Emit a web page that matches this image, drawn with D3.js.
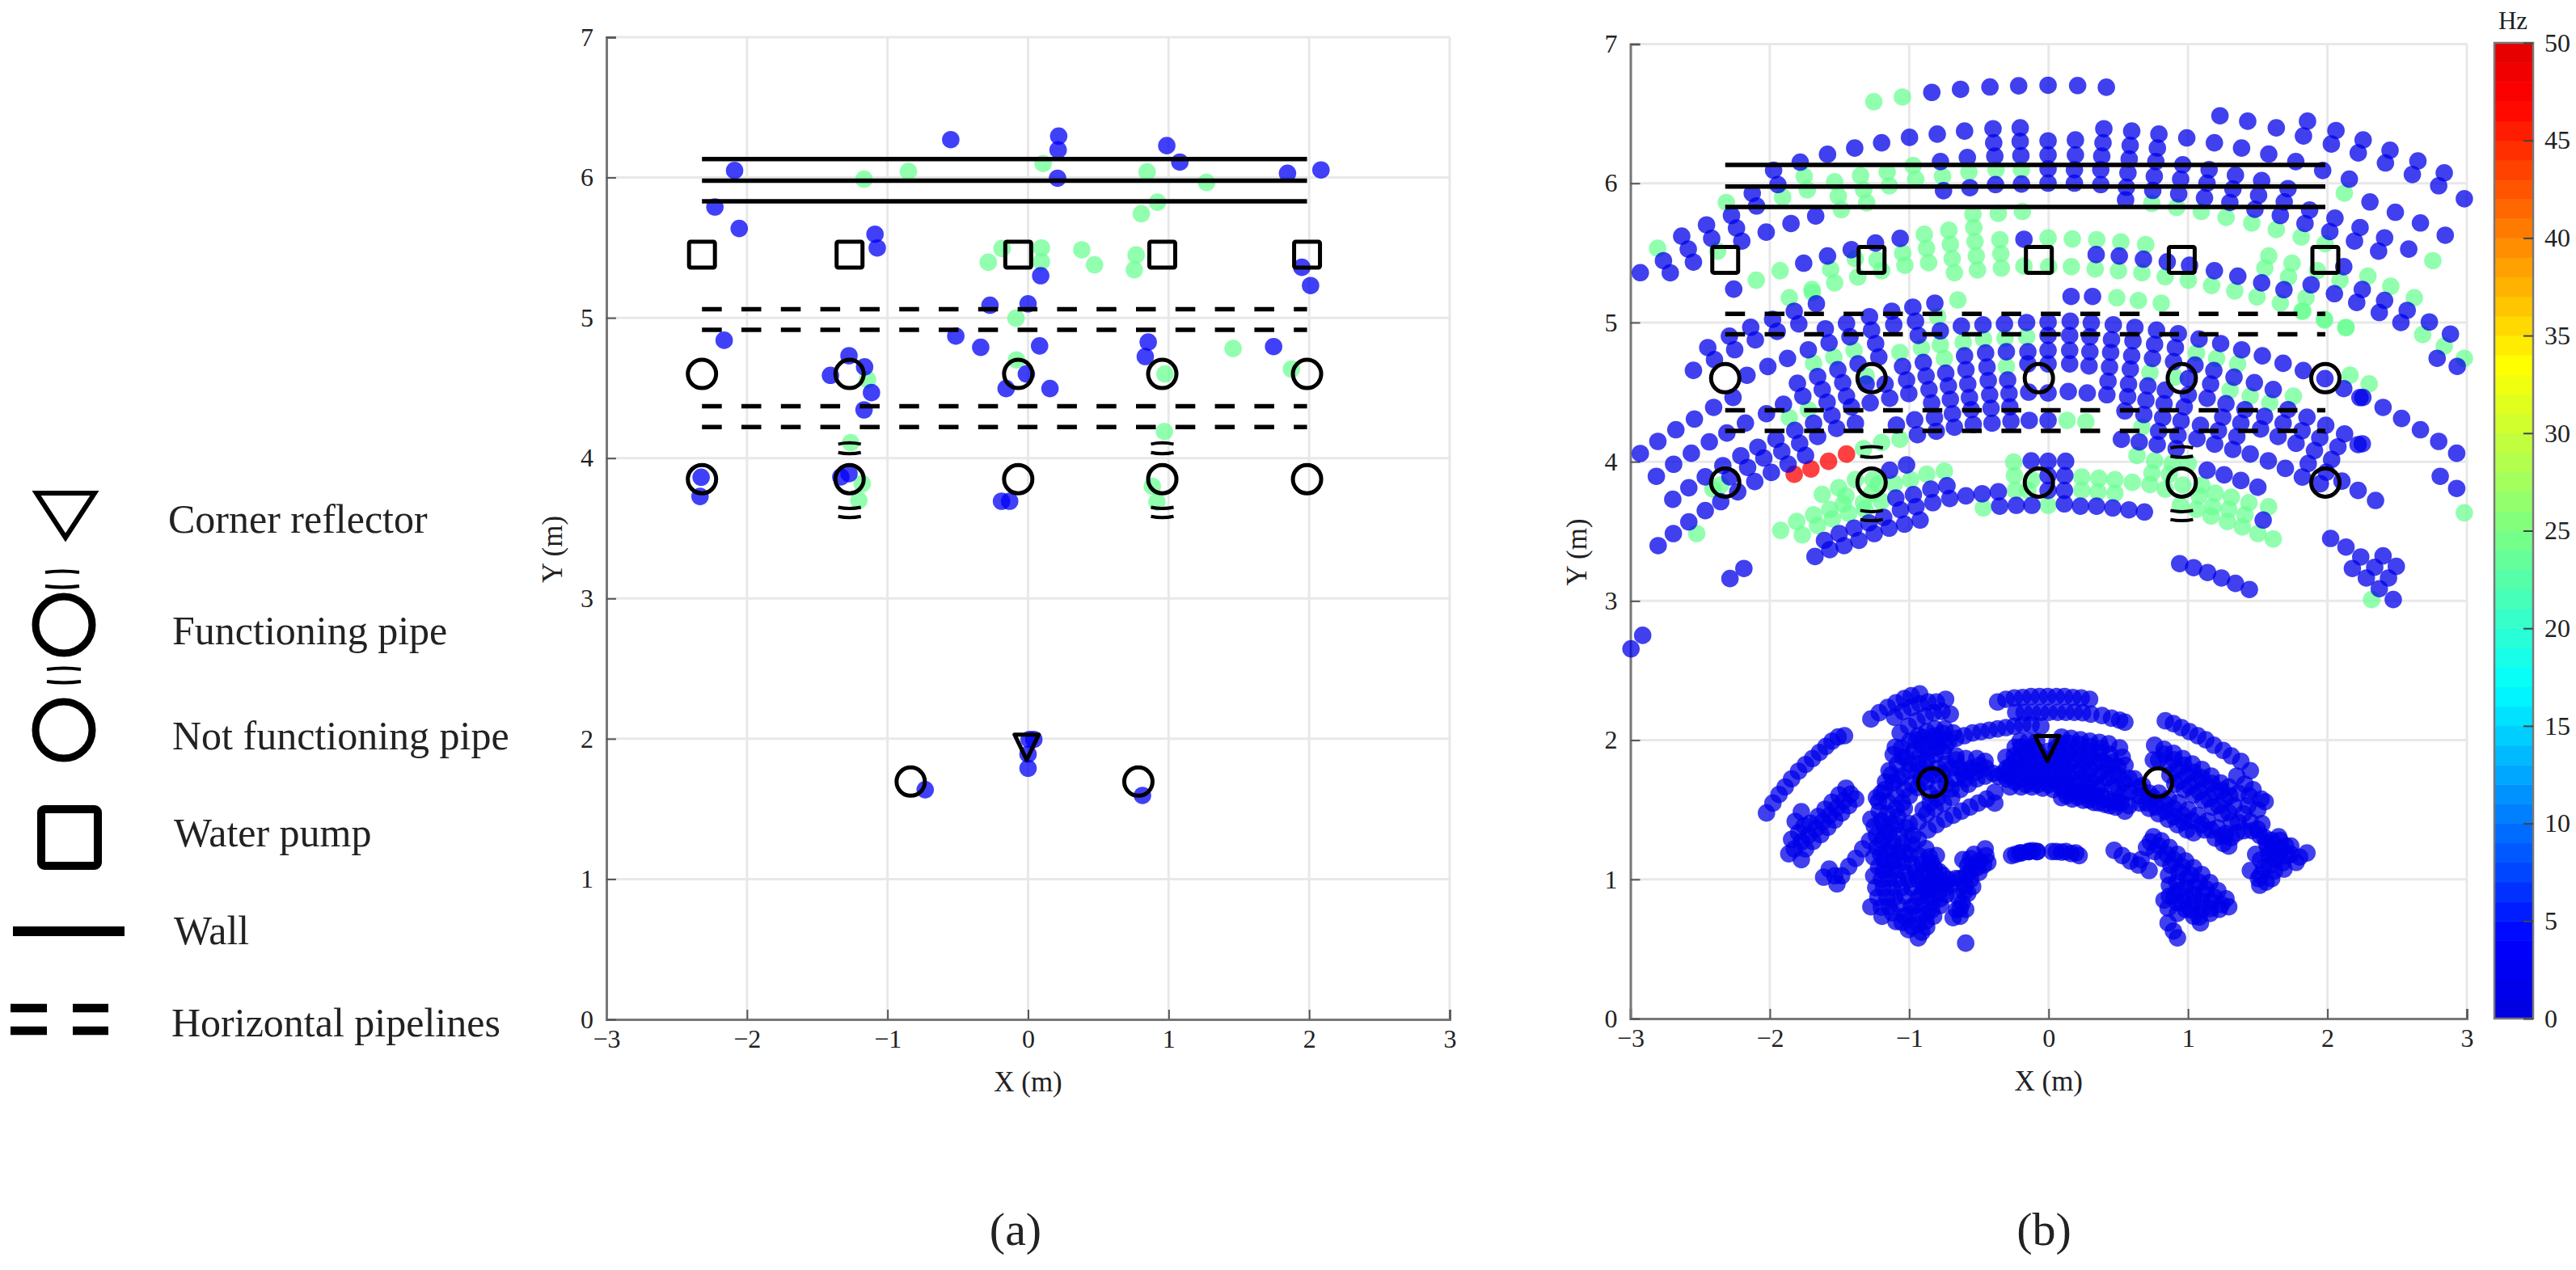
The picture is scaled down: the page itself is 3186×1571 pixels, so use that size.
<!DOCTYPE html>
<html>
<head>
<meta charset="utf-8">
<script src="https://cdn.jsdelivr.net/npm/d3@7"></script>
<style>
  body { margin: 0; background: #fff; }
  text { font-family: "Liberation Serif", serif; fill: #222; }
</style>
</head>
<body>
<svg id="chart" width="3186" height="1571"></svg>
<script>
// site layout, metres
var pumpX = [-2.32, -1.27, -0.07, 0.955, 1.985];
var pumpY = [5.45];
var pipeRows = [4.6, 3.85];
var nearPipes = [[-0.835, 1.695], [0.785, 1.695]];
var workingPipeX = [-1.27, 0.955];
var pipeArcY = [4.1, 4.04, 3.65, 3.585];
var wallY = [6.132, 5.977, 5.83];
var pipelineY = [5.062, 4.915, 4.37, 4.222];
var siteX = [-2.32, 1.985];
var reflector = [-0.01, 2.03, 1.85];

// frequency of each point group, Hz
var blueHz = 1.5, blueHzA = 3, greenHz = 24, redHz = 47;

// panel (a) detections
var aBlue = [[-0.55,6.27],[0.218,6.295],[0.214,6.197],[0.21,5.995],[0.987,6.227],[1.08,6.11],[1.846,6.03],[2.084,6.054],[-2.088,6.05],[-2.228,5.79],[-2.055,5.637],[-1.089,5.596],[-1.073,5.498],[0.09,5.3],[1.948,5.36],[2.01,5.23],[-0.271,5.09],[0,5.1],[-0.514,4.87],[-0.337,4.79],[0.082,4.8],[0.855,4.827],[0.834,4.724],[1.747,4.795],[-2.162,4.84],[-1.274,4.73],[-1.163,4.65],[-1.406,4.59],[-1.114,4.467],[-1.167,4.344],[-0.012,4.6],[-0.156,4.496],[0.156,4.496],[-2.326,3.864],[-2.334,3.727],[-1.332,3.866],[-1.274,3.889],[-0.189,3.693],[-0.131,3.693],[-0.732,1.637],[0.814,1.596],[0,1.79],[0,1.89],[0.008,1.995],[0.041,1.995]];
var aGreen = [[-1.167,5.988],[-0.851,6.043],[0.107,6.1],[0.847,6.04],[1.27,5.965],[0.921,5.824],[0.806,5.742],[-0.185,5.494],[-0.283,5.396],[0.095,5.498],[0.095,5.4],[0.382,5.485],[0.473,5.378],[0.769,5.448],[0.756,5.343],[-0.086,4.997],[-0.082,4.7],[1.459,4.781],[1.874,4.635],[0.974,4.6],[-1.142,4.56],[0.97,4.19],[-1.262,4.11],[-1.18,3.818],[-1.204,3.7],[0.884,3.8],[0.917,3.688]];

// panel (b) detections
var bRed = [[-1.825,3.91],[-1.705,3.948],[-1.579,4.003],[-1.45,4.055]];
var bGreen = [[-1.254,6.586],[-1.049,6.62],[-2.805,5.533],[-2.312,5.862],[-2.374,5.513],[-1.908,5.9],[-1.753,6.05],[-1.731,5.953],[-1.535,6.011],[-1.509,5.908],[-1.487,5.811],[-1.349,6.055],[-1.327,5.953],[-1.305,5.86],[-1.158,6.082],[-1.143,5.982],[-0.972,6.127],[-0.954,6.03],[-0.761,6.05],[-0.572,6.082],[-0.543,5.778],[-0.377,6.098],[-0.195,6.098],[-0.361,5.784],[-0.188,5.798],[-0.892,5.633],[-0.876,5.533],[-0.861,5.43],[-0.716,5.662],[-0.705,5.562],[-0.692,5.459],[-0.676,5.358],[-0.537,5.682],[-0.528,5.581],[-0.519,5.478],[-0.51,5.378],[-0.35,5.595],[-0.343,5.494],[-0.339,5.391],[-0.004,5.608],[-0.177,5.405],[0,5.401],[-1.047,5.498],[-1.031,5.411],[-1.231,5.449],[-1.198,5.372],[-1.387,5.459],[-1.369,5.327],[-1.564,5.382],[-1.535,5.285],[-1.926,5.372],[-2.097,5.304],[-1.698,5.237],[-1.86,5.178],[-1.695,5.216],[-0.651,5.162],[-0.796,5.042],[-0.613,4.858],[-0.467,4.881],[-0.313,4.887],[-0.158,4.897],[-0.777,4.839],[-0.748,4.742],[-0.912,4.816],[-1.067,4.785],[-1.396,4.8],[-1.541,4.752],[-1.686,4.707],[-0.303,4.684],[-1.309,4.616],[-1.86,4.316],[-1.724,4.374],[0.132,4.297],[0.267,4.287],
[-0.004,3.687],[-0.468,3.668],[-0.251,3.997],[-0.245,3.9],[-0.239,3.794],[-0.149,3.794],[-0.12,3.871],[-0.748,3.933],[-0.874,3.91],[-0.99,3.871],[-1.106,3.842],[-1.222,3.842],[-1.26,3.871],[-1.386,3.871],[-1.27,3.774],[-1.2,3.716],[-1.328,3.706],[-1.454,3.755],[-1.506,3.813],[-1.624,3.765],[-1.57,3.658],[-1.473,3.697],[-1.686,3.619],[-1.807,3.571],[-1.922,3.507],[-1.767,3.474],[-1.657,3.542],[-1.55,3.59],[-1.434,3.629],[-1.318,3.658],[-1.328,4.094],[-1.198,4.138],[-1.067,4.161],
[-2.408,3.804],[-2.352,3.833],[-2.525,3.484],
[0.489,5.178],[0.644,5.158],[0.808,5.139],[1.978,5.023],[2.133,4.965],[1.824,5.081],[1.06,4.781],[1.205,4.742],[1.356,4.703],[0.727,4.641],[0.905,4.607],[1.302,4.514],[1.446,4.471],[1.586,4.423],[1.756,4.471],[2.162,4.622],[0.669,4.248],[0.634,4.045],[0.76,4.007],[0.886,3.987],[1.002,3.987],[0.238,3.89],[0.36,3.881],[0.476,3.871],[0.6,3.852],[0.238,3.794],[0.354,3.784],[0.476,3.774],[0.741,3.919],[0.727,3.836],[0.837,3.803],[0.866,3.91],[0.963,3.832],[1.079,3.755],[1.195,3.774],[1.311,3.745],[1.437,3.706],[1.578,3.677],[0.944,3.687],[1.06,3.658],[1.176,3.677],[1.292,3.658],[1.408,3.619],[1.166,3.61],[1.282,3.571],[1.389,3.532],[1.501,3.484],[1.611,3.445],[1.098,3.832],
[2.317,3.01],[2.982,3.633],[2.299,4.559],[2.982,4.743],
[0.74,5.856],[0.918,5.827],[1.095,5.798],[1.273,5.755],[1.457,5.715],[1.633,5.668],[1.812,5.614],[1.983,5.566],[2.121,5.929],[0.17,5.6],[0.345,5.595],[0.518,5.579],[0.696,5.56],[0.163,5.401],[0.334,5.385],[0.501,5.372],[0.669,5.357],[0.836,5.329],[1.002,5.304],[1.169,5.266],[1.335,5.227],[1.495,5.184],[1.662,5.14],[1.817,5.082],[1.979,5.018],[2.132,4.962],[1.579,5.478],[1.551,5.391],[1.746,5.426],[1.721,5.327],[1.928,5.372],[2.09,5.304],[2.29,5.333],[2.454,5.26],[2.623,5.178],[2.683,4.913],[2.838,4.83],[2.756,5.444],[1.846,5.178]];
var bBlue = [[-0.838,6.653],[-0.632,6.675],[-0.421,6.692],[-0.215,6.7],[-0.004,6.704],[0.208,6.702],[0.414,6.69],
[-2.929,5.358],[-2.763,5.444],[-2.714,5.357],[-2.632,5.62],[-2.585,5.527],[-2.548,5.434],[-2.454,5.701],[-2.417,5.604],[-2.275,5.769],[-2.239,5.678],[-2.201,5.585],[-2.126,5.928],[-2.095,5.837],[-1.973,6.094],[-1.942,5.991],[-1.782,6.152],[-1.586,6.208],[-1.391,6.253],[-1.198,6.291],[-0.998,6.33],[-0.799,6.353],[-0.603,6.375],[-0.399,6.392],[-0.394,6.291],[-0.386,6.195],[-0.381,5.991],[-0.204,6.398],[-0.204,6.301],[-0.199,6.199],[-0.195,5.995],[-0.776,6.156],[-0.583,6.185],[-0.754,5.947],[-0.565,5.968],[-0.004,6.305],[-0.004,6.204],[-0.004,6.104],[-0.004,6.001],[-2.026,5.649],[-1.848,5.711],[-1.671,5.765],[-2.259,5.24],[-1.757,5.426],[-1.586,5.478],[-1.416,5.523],[-1.242,5.571],[-1.065,5.604],[-0.177,5.598],
[-2.137,4.966],[-2.104,4.875],[-2.29,4.902],[-2.252,4.805],[-2.445,4.82],[-2.397,4.733],
[-1.666,5.135],[-1.825,5.081],[-1.792,4.99],[-1.98,5.023],[-1.947,4.936],[-1.602,4.955],[-1.575,4.854],[-1.724,4.804],[-1.873,4.742],[-2.014,4.684],[-1.45,4.994],[-1.285,5.042],[-1.27,4.945],[-1.241,4.849],[-1.218,4.752],[-1.425,4.897],[-1.367,4.703],[-1.512,4.661],[-1.477,4.568],[-1.45,4.471],[-1.415,4.394],[-1.386,4.277],[-1.657,4.612],[-1.624,4.519],[-1.589,4.428],[-1.554,4.332],[-1.521,4.239],[-1.802,4.564],[-1.763,4.471],[-1.902,4.413],[-1.686,4.277],[-1.657,4.181],[-2.024,4.345],[-1.821,4.225],[-1.786,4.132],[-1.744,4.045],[-1.956,4.161],[-1.914,4.074],[-1.869,3.983],[-1.989,3.923],[-2.043,4.026],[-1.125,5.081],[-1.111,4.984],[-0.974,5.11],[-0.955,5.009],[-0.935,4.907],[-0.816,5.139],[-0.777,4.94],[-1.048,4.684],[-1.019,4.587],[-1.003,4.49],[-0.899,4.713],[-0.879,4.616],[-0.858,4.519],[-0.839,4.423],[-0.819,4.316],[-0.806,4.219],[-0.738,4.636],[-0.719,4.545],[-0.705,4.448],[-0.69,4.345],[-0.676,4.248],[-0.603,4.761],[-0.593,4.661],[-0.58,4.558],[-0.568,4.461],[-0.555,4.374],[-0.541,4.268],[-0.626,4.974],[-0.471,4.984],[-0.317,4.99],[-0.158,5],[-0.004,5.003],[0.155,5.009],[-0.452,4.781],[-0.442,4.68],[-0.433,4.583],[-0.423,4.481],[-0.413,4.384],[-0.406,4.277],[-0.303,4.79],[-0.294,4.587],[-0.284,4.49],[-0.278,4.394],[-0.27,4.291],[-0.149,4.79],[-0.149,4.703],[-0.143,4.5],[-0.139,4.297],[-0.004,4.907],[-0.004,4.8],[-0.004,4.703],[-0.004,4.494],[-0.004,4.297],[0.151,4.907],[0.151,4.8],[0.151,4.703],[0.141,4.504],[-1.28,4.423],[-1.14,4.456],[-1.309,4.558],[-1.173,4.558],[-1.092,4.264],[-0.961,4.301],[-0.941,4.194],
[-1.019,3.977],[-1.14,3.939],[-1.096,3.739],[-0.97,3.764],[-0.845,3.803],[-0.729,3.828],[-0.709,3.736],[-0.831,3.706],[-0.951,3.677],[-1.063,3.654],[-0.922,3.581],[-1.034,3.552],[-1.144,3.523],[-1.251,3.484],[-1.361,3.435],[-1.467,3.397],[-1.57,3.368],[-1.676,3.319],[-1.608,3.435],[-1.502,3.484],[-1.396,3.523],[-1.289,3.561],[-1.183,3.6],[-0.593,3.755],[-0.477,3.77],[-0.361,3.784],[-0.351,3.681],[-0.232,3.687],[-0.12,3.687],[0.113,3.697],[0.228,3.681],[0.113,3.794],[0.116,3.9],[0.122,4.003],[-0.004,4.003],[-0.125,4.006],[-0.004,3.9],[-0.004,3.794],
[-2.548,4.656],[-2.164,4.621],[-2.264,4.462],[-2.403,4.39],[-2.541,4.307],[-2.674,4.23],[-2.803,4.146],[-2.929,4.059],[-2.175,4.278],[-2.308,4.206],[-2.434,4.143],[-2.563,4.061],[-2.69,3.982],[-2.814,3.895],[-2.086,4.104],[-2.208,4.042],[-2.337,3.972],[-2.463,3.891],[-2.581,3.813],[-2.696,3.73],[-2.159,3.959],[-2.286,3.891],[-2.108,3.858],[-2.23,3.784],[-2.352,3.713],[-2.463,3.649],[-2.581,3.568],[-2.692,3.484],[-2.801,3.397],[-2.186,3.233],[-2.286,3.161],[-2.912,2.753],[-2.996,2.656],
[0.161,5.187],[0.315,5.187],[0.306,4.998],[0.464,4.984],[0.619,4.965],[0.774,4.945],[0.93,4.92],[1.079,4.881],[1.234,4.849],[1.385,4.804],[1.533,4.761],[1.682,4.707],[1.827,4.655],[1.982,4.597],[2.117,4.525],[0.296,4.897],[0.296,4.79],[0.29,4.688],[0.277,4.494],[0.451,4.878],[0.445,4.785],[0.437,4.68],[0.426,4.578],[0.418,4.481],[0.605,4.868],[0.596,4.761],[0.586,4.665],[0.573,4.558],[0.567,4.467],[0.547,4.365],[0.76,4.843],[0.745,4.742],[0.712,4.545],[0.698,4.442],[0.683,4.339],[0.909,4.82],[0.896,4.719],[0.837,4.514],[0.828,4.417],[0.818,4.316],[0.789,4.219],[1.05,4.694],[1.002,4.597],[1.002,4.481],[0.973,4.394],[0.95,4.293],[0.928,4.19],[0.915,4.094],[1.185,4.655],[1.162,4.558],[1.137,4.456],[1.089,4.262],[1.064,4.165],[1.33,4.607],[1.272,4.417],[1.249,4.32],[1.218,4.223],[1.191,4.126],[1.476,4.568],[1.408,4.374],[1.379,4.277],[1.35,4.181],[1.321,4.088],[1.611,4.519],[1.549,4.326],[1.52,4.235],[1.717,4.374],[1.682,4.277],[1.646,4.181],[1.853,4.32],[1.818,4.223],[1.775,4.132],[1.988,4.262],[1.945,4.171],[1.907,4.08],[1.862,3.987],[1.82,3.89],[2.123,4.2],[2.075,4.107],[2.03,4.016],[1.992,3.925],[1.949,3.842],[2.22,4.123],[2.233,4.461],[0.522,4.161],[0.65,4.142],[0.779,4.123],[1.446,4.055],[1.576,4.006],[1.698,3.952],[1.137,3.939],[1.259,3.906],[1.379,3.865],[1.501,3.817],[1.539,3.581],[2.104,3.861],[2.22,3.794],[0.344,3.681],[0.46,3.668],[0.576,3.654],[0.687,3.639],[2.023,3.449],[2.133,3.387],
[0.192,6.311],[0.192,6.204],[0.185,6.098],[0.185,6.001],[0.396,6.392],[0.39,6.291],[0.381,6.195],[0.374,6.098],[0.374,5.991],[0.596,6.375],[0.585,6.272],[0.578,6.175],[0.569,6.075],[0.558,5.972],[0.552,5.881],[0.791,6.353],[0.78,6.253],[0.769,6.156],[0.758,6.05],[0.747,5.949],[0.991,6.326],[0.962,6.133],[0.947,6.03],[0.933,5.924],[1.189,6.291],[1.151,6.098],[1.136,6.001],[1.118,5.895],[1.229,6.485],[1.428,6.446],[1.633,6.398],[1.857,6.446],[1.828,6.34],[2.061,6.379],[2.028,6.282],[2.256,6.311],[2.221,6.218],[2.449,6.237],[2.416,6.146],[2.649,6.16],[2.609,6.063],[2.838,6.075],[2.798,5.982],[2.982,5.889],[1.384,6.253],[1.579,6.21],[1.773,6.156],[1.966,6.092],[2.157,6.03],[1.34,6.059],[1.322,5.959],[1.3,5.862],[1.528,6.02],[1.506,5.914],[1.48,5.813],[1.717,5.962],[1.69,5.866],[1.662,5.769],[1.872,5.808],[1.839,5.711],[2.054,5.75],[2.017,5.653],[2.234,5.682],[2.194,5.585],[2.41,5.608],[2.367,5.513],[2.305,5.866],[2.487,5.792],[2.667,5.715],[2.845,5.627],[2.583,5.527],[0.341,5.488],[0.507,5.478],[0.68,5.455],[0.851,5.436],[1.011,5.411],[1.189,5.372],[1.357,5.333],[1.528,5.285],[1.688,5.236],[1.883,5.271],[2.05,5.207],[2.117,5.401],[2.25,5.237],[2.21,5.144],[2.41,5.159],[2.372,5.072],[2.572,5.087],[2.527,5],[2.731,5.004],[2.882,4.917],[2.787,4.743],[2.931,4.685],
[2.254,4.462],[2.399,4.39],[2.532,4.311],[2.667,4.23],[2.798,4.146],[2.927,4.061],[2.809,3.895],[2.927,3.808],[2.345,3.722],[2.25,4.129],[0.94,3.268],[1.04,3.239],[1.14,3.204],[1.24,3.165],[1.34,3.126],[1.44,3.082],[2.239,3.316],[2.179,3.233],[2.279,3.165],[2.339,3.242],[2.399,3.324],[2.438,3.165],[2.494,3.248],[2.372,3.088],[2.472,3.01]];
// near-field cluster in panel (b)
var bNear = [[-2.024,1.477],[-1.978,1.548],[-1.934,1.61],[-1.89,1.664],[-1.844,1.722],[-1.794,1.777],[-1.744,1.825],[-1.694,1.868],[-1.644,1.912],[-1.598,1.955],[-1.554,1.993],[-1.51,2.023],[-1.464,2.032],
[-1.454,1.655],[-1.504,1.606],[-1.554,1.554],[-1.604,1.504],[-1.654,1.451],[-1.71,1.403],[-1.384,1.577],[-1.434,1.529],[-1.484,1.477],[-1.534,1.426],[-1.584,1.374],[-1.634,1.322],[-1.69,1.273],[-1.744,1.219],[-1.774,1.142],[-1.42,1.612],[-1.47,1.564],[-1.52,1.513],[-1.57,1.461],[-1.62,1.413],[-1.67,1.364],[-1.724,1.316],[-1.774,1.268],[-1.824,1.219],[-1.864,1.184],[-1.774,1.486],[-1.818,1.417],[-1.754,1.384],[-1.794,1.335],[-1.844,1.287],
[-1.574,1.074],[-1.614,1.016],[-1.518,0.968],[-1.484,1.026],[-1.434,1.093],[-1.384,1.151],[-1.334,1.219],[-1.285,1.277],[-1.534,1.026],
[-1.275,2.152],[-1.215,2.197],[-1.155,2.235],[-1.095,2.268],[-1.035,2.299],[-0.985,2.319],[-0.925,2.332],[-1.105,2.164],[-1.045,2.206],[-0.985,2.235],[-0.925,2.261],[-0.865,2.274],[-0.805,2.274],[-0.739,2.294],[-1.065,2.052],[-1.005,2.1],[-0.945,2.139],[-0.885,2.172],[-0.825,2.197],[-0.765,2.206],[-0.705,2.187],[-1.115,1.897],[-1.055,1.945],[-0.995,1.993],[-0.935,2.032],[-0.875,2.061],[-0.815,2.081],[-0.745,2.081],[-0.685,2.052],[-1.145,1.781],[-1.085,1.829],[-1.025,1.877],[-0.965,1.926],[-0.905,1.964],[-0.845,1.993],[-0.785,2.013],[-0.715,1.993],[-0.665,1.887],[-1.235,1.587],[-1.175,1.645],[-1.115,1.693],[-1.055,1.742],[-0.995,1.781],[-0.935,1.829],[-0.875,1.858],[-0.815,1.897],[-0.755,1.916],[-1.275,1.432],[-1.215,1.49],[-1.155,1.558],[-1.095,1.606],[-1.035,1.645],[-0.975,1.684],[-0.915,1.722],[-0.855,1.761],[-0.795,1.8],[-0.735,1.829],[-0.665,1.858],[-0.595,1.868],[-0.515,1.868],[-0.456,1.848],[-0.935,1.413],[-0.875,1.471],[-0.815,1.51],[-0.755,1.548],[-0.695,1.587],[-0.635,1.645],[-0.575,1.684],[-0.515,1.722],[-0.456,1.742],[-0.396,1.761],[-0.865,1.355],[-0.805,1.393],[-0.745,1.432],[-0.685,1.461],[-0.625,1.49],[-0.565,1.519],[-0.505,1.548],[-0.445,1.577],[-0.386,1.548],[-0.386,1.626],[-0.855,1.616],[-0.795,1.655],[-0.735,1.684],[-0.675,1.722],[-0.615,1.761],[-0.555,1.8],[-0.496,1.819],
[-0.665,2.013],[-0.605,2.032],[-0.545,2.052],[-0.485,2.061],[-0.426,2.071],[-0.366,2.081],[-0.306,2.09],[-0.246,2.1],[-0.186,2.11],[-0.126,2.11],[-0.056,2.1],
[-0.366,2.274],[-0.306,2.294],[-0.246,2.303],[-0.186,2.307],[-0.126,2.313],[-0.066,2.313],[-0.006,2.313],[0.054,2.313],[0.114,2.313],[0.174,2.307],[0.234,2.303],[0.294,2.294],[-0.236,2.2],[-0.176,2.2],[-0.116,2.2],[-0.056,2.2],[0.004,2.2],[0.064,2.2],[0.124,2.2],[0.184,2.2],[0.243,2.197],[0.303,2.187],[0.383,2.177],[0.451,2.158],[0.509,2.144],[0.547,2.129],[-0.206,1.993],[-0.146,1.993],[-0.086,1.993],
[0.093,2.022],[0.161,2.013],[0.228,2.003],[0.296,1.993],[0.364,1.984],[0.431,1.974],[0.509,1.945],[-0.197,1.951],[-0.12,1.951],[0.054,1.945],[0.132,1.939],[0.209,1.93],[0.286,1.92],[0.364,1.91],[0.441,1.897],[0.528,1.877],[-0.197,1.877],[-0.12,1.877],[-0.042,1.873],[0.035,1.868],[0.112,1.862],[0.19,1.854],[0.267,1.844],[0.344,1.835],[0.422,1.823],[0.499,1.81],[0.548,1.82],[-0.197,1.8],[-0.12,1.8],[-0.042,1.796],[0.035,1.79],[0.112,1.781],[0.19,1.771],[0.267,1.757],[0.344,1.742],[0.422,1.728],[0.499,1.745],[0.576,1.726],[-0.197,1.722],[-0.12,1.722],[-0.042,1.719],[0.035,1.713],[0.112,1.703],[0.19,1.693],[0.267,1.68],[0.344,1.664],[0.499,1.664],[0.576,1.626],[0.654,1.6],[0.731,1.58],[0.093,1.587],[0.17,1.577],[0.248,1.568],[0.325,1.552],[0.402,1.539],[0.48,1.519],[0.547,1.49],[-0.197,1.664],[-0.12,1.664],[-0.042,1.655],[0.035,1.645],[0.112,1.635],[0.19,1.622],[0.267,1.606],[0.344,1.597],[0.422,1.577],[0.499,1.558],[0.576,1.529],[-0.306,1.877],[-0.246,1.887],[-0.276,1.664],[-0.276,1.742],[-0.276,1.81],
[0.837,2.139],[0.895,2.119],[0.953,2.09],[1.011,2.061],[1.07,2.032],[1.127,2.003],[1.185,1.964],[1.253,1.926],[1.311,1.887],[1.379,1.848],[1.447,1.781],[1.466,1.645],[1.524,1.577],[1.553,1.558],[0.76,1.964],[0.828,1.935],[0.896,1.906],[0.963,1.868],[1.031,1.829],[1.099,1.79],[1.166,1.742],[1.234,1.693],[1.292,1.664],[1.35,1.742],[1.408,1.684],[0.789,1.858],[0.857,1.819],[0.924,1.79],[0.992,1.752],[1.06,1.713],[1.127,1.674],[1.195,1.626],[1.263,1.577],[1.33,1.529],[1.398,1.471],[1.447,1.413],[1.514,1.316],[1.563,1.258],[0.905,1.684],[0.973,1.645],[1.04,1.606],[1.108,1.568],[1.176,1.519],[1.244,1.471],[1.311,1.413],[1.35,1.335],[1.292,1.239],[0.654,1.548],[0.721,1.51],[0.789,1.471],[0.857,1.432],[0.924,1.393],[0.992,1.355],[1.04,1.335],[1.118,1.355],[1.195,1.297],[1.253,1.258],[0.615,1.723],[0.673,1.674],[0.751,1.587],[0.828,1.548],[0.896,1.51],[0.963,1.461],[1.031,1.422],[1.099,1.393],[1.166,1.355],[0.751,1.858],
[1.853,1.19],[1.775,1.122],[1.708,1.171],[1.65,1.306],[1.688,1.074],[1.63,1.142],[1.572,1.229],[1.6,1.006],[1.543,1.084],[1.485,1.18],[1.514,0.958],[1.447,1.064],[1.505,1.006],[1.737,1.239],[1.669,1.219],[1.6,1.2],
[-0.197,1.19],[-0.139,1.2],[-0.081,1.2],[0.025,1.2],[0.093,1.196],[0.161,1.186],[0.219,1.171],[-0.266,1.171],[-0.206,1.19],[-0.146,1.2],[-0.086,1.2],[-0.236,1.18],[-0.116,1.206],[0.054,1.2],[0.124,1.2],[0.194,1.19],
[0.47,1.209],[0.528,1.171],[0.586,1.132],[0.644,1.103],[0.721,1.064],[0.663,1.142],[0.751,1.306],[0.808,1.277],[0.866,1.229],[0.924,1.18],[0.983,1.132],[1.04,1.084],[1.099,1.035],[1.157,0.977],[1.214,0.919],[1.272,0.861],[1.292,0.803],[0.702,1.229],[0.76,1.2],[0.818,1.151],[0.876,1.103],[0.934,1.055],[0.992,1.006],[1.05,0.948],[1.108,0.9],[1.166,0.842],[1.224,0.784],[0.866,0.958],[0.924,0.919],[0.983,0.88],[1.04,0.832],[1.099,0.784],[1.157,0.755],[1.089,0.687],[1.04,0.735],[0.983,0.784],[0.924,0.832],[0.866,0.88],[0.828,0.851],[0.857,0.793],[0.924,0.755],[0.857,0.687],[0.895,0.629],[0.924,0.58],
[-1.275,0.803],[-1.225,0.871],[-1.185,0.939],[-1.145,1.006],[-1.095,1.064],[-1.045,1.122],[-0.995,1.18],[-0.935,1.287],[-1.195,0.735],[-1.145,0.803],[-1.105,0.871],[-1.055,0.939],[-1.005,0.997],[-0.955,1.055],[-0.905,1.113],[-0.855,1.161],[-0.805,1.171],[-1.095,0.697],[-1.035,0.735],[-0.985,0.803],[-0.935,0.871],[-0.895,0.939],[-0.835,0.997],[-0.785,1.055],[-1.005,0.639],[-0.935,0.58],[-0.875,0.658],[-0.825,0.735],[-0.775,0.813],[-0.735,0.89],[-0.705,0.958],[-0.935,0.677],[-0.875,0.755],[-0.835,0.832],[-0.795,0.9],[-1.255,1.026],[-1.255,1.161],[-1.195,1.277],[-1.145,1.335],[-1.095,1.393],[-1.205,1.18],[-1.135,1.219],[-1.235,1.316],[-1.175,1.374],[-1.155,1.471],[-1.095,1.51],[-1.075,1.161],[-1.115,1.122],[-1.185,1.064],[-0.975,1.316],[-1.045,1.258],[-1.035,1.51],[-0.635,0.793],[-0.685,0.725],[-0.595,0.784],[-0.635,0.735],[-0.545,0.948],[-0.605,0.909],[-0.655,0.88],[-0.635,1.006],[-0.555,1.064],[-0.466,1.103],[-0.436,1.122],[-0.615,1.142],[-0.535,1.18],[-0.455,1.219],[-0.665,1.006],[-0.595,1.026],[-0.515,1.084],[-0.855,1.103],[-0.915,1.026],[-0.815,1.026],[-0.755,0.968],[-0.855,0.929],[-0.595,0.542],
// densest parts, read between the rows above
[-1.2,0.8],[-1.16,0.87],[-1.12,0.94],[-1.08,1.0],[-1.03,1.05],[-0.98,1.11],[-0.93,1.17],[-0.88,1.22],[-1.12,0.76],[-1.08,0.82],[-1.03,0.88],[-0.98,0.94],[-0.94,1.0],[-0.89,1.06],[-0.84,1.12],[-1.05,0.69],[-1.0,0.75],[-0.96,0.81],[-0.91,0.9],[-0.87,0.97],[-0.82,1.08],[-0.98,0.66],[-0.94,0.74],[-0.9,0.82],[-0.86,0.88],[-0.8,0.96],[-0.76,1.03],[-0.91,0.62],[-0.88,0.7],[-0.84,0.78],[-0.78,0.86],[-0.74,0.94],[-0.72,1.0],[-1.24,0.94],[-1.2,1.0],[-1.16,1.07],[-1.12,1.13],[-1.08,1.2],[-1.03,1.2],[-0.98,1.25],[-1.22,1.09],[-1.18,1.14],[-1.16,1.2],[-1.12,1.27],[-1.07,1.32],[-1.02,1.37],[-1.23,1.23],[-1.18,1.3],[-1.13,1.4],[-1.2,1.42],[-1.25,1.38],[-1.08,1.45],[-0.66,0.78],[-0.62,0.83],[-0.58,0.9],[-0.6,0.96],[-0.56,1.0],[-0.5,1.05],[-0.5,1.13],[-0.58,1.1],[-0.45,1.17],[-0.56,1.15],
[-0.3,1.72],[-0.3,1.8],[-0.24,1.7],[-0.24,1.78],[-0.24,1.85],[-0.24,1.95],[-0.16,1.68],[-0.16,1.76],[-0.16,1.84],[-0.16,1.92],[-0.08,1.68],[-0.08,1.76],[-0.08,1.84],[-0.08,1.92],[0,1.68],[0,1.76],[0,1.84],[0,1.92],[0.08,1.67],[0.08,1.75],[0.08,1.83],[0.08,1.91],[0.15,1.66],[0.15,1.74],[0.15,1.82],[0.15,1.9],[0.23,1.64],[0.23,1.72],[0.23,1.8],[0.23,1.89],[0.3,1.62],[0.3,1.7],[0.3,1.79],[0.3,1.87],[0.38,1.6],[0.38,1.68],[0.38,1.77],[0.38,1.85],[0.46,1.56],[0.46,1.66],[0.46,1.76],[0.46,1.84],[0.13,1.6],[0.21,1.59],[0.29,1.57],[0.36,1.55],[0.44,1.53],[0.52,1.55],[0.54,1.62],[0.54,1.7],[0.06,1.985],[0.14,1.98],[0.22,1.97],[0.3,1.955],[0.38,1.94],[-0.33,1.76],[-0.36,1.74],
[0.83,1.9],[0.9,1.86],[0.97,1.82],[1.04,1.77],[1.1,1.73],[1.17,1.69],[1.24,1.64],[1.3,1.6],[1.36,1.62],[1.44,1.6],[1.5,1.5],[1.43,1.53],[0.87,1.75],[0.94,1.71],[1.01,1.67],[1.08,1.63],[1.15,1.58],[1.22,1.53],[1.29,1.48],[1.36,1.41],[1.4,1.35],[1.46,1.35],[1.53,1.4],[0.79,1.62],[0.86,1.58],[0.93,1.55],[1.0,1.5],[1.07,1.46],[1.14,1.42],[1.21,1.37],[1.27,1.33],[1.31,1.3],[1.25,1.31],[0.65,1.66],[0.72,1.62],[0.7,1.55],[0.77,1.52],[0.84,1.49],[0.9,1.45],[0.97,1.41],
[0.73,1.27],[0.79,1.24],[0.85,1.18],[0.9,1.14],[0.96,1.09],[1.02,1.03],[1.08,0.98],[1.13,0.93],[1.19,0.87],[1.24,0.82],[0.86,1.03],[0.92,0.98],[0.98,0.94],[1.04,0.89],[1.1,0.84],[1.16,0.79],[0.9,0.88],[0.96,0.83],[1.02,0.78],[1.08,0.73],
[-1.0,1.4],[-0.9,1.5],[-0.85,1.55],[-0.8,1.58],[-0.7,1.65],[-0.6,1.72],[-0.52,1.77],[-0.45,1.8],[-1.05,1.55],[-1.0,1.6],[-0.94,1.66],[-0.88,1.7],[-0.82,1.75],[-0.76,1.76],[-0.7,1.8],[-0.64,1.8],[-0.58,1.78],[-1.1,1.95],[-1.05,1.88],[-1.0,1.83],[-0.94,1.78],[-0.88,1.8],[-0.92,1.9],[-0.86,1.92],[-0.8,1.95],[-0.74,1.96],[-0.95,2.0],[-0.9,2.02],[-0.82,2.03],[-0.76,2.05],[-1.08,1.72],[-1.13,1.75],[-1.17,1.7],[-1.2,1.62],[-1.22,1.56],
[1.52,1.03],[1.58,1.1],[1.64,1.17],[1.7,1.24],[1.56,0.98],[1.62,1.06],[1.68,1.12],[1.74,1.18],[1.66,1.28],[1.6,1.28],[1.52,1.14],[1.58,1.18],[1.8,1.16],[1.5,1.36],[1.55,1.3]];

// axes
var xTicks = [-3, -2, -1, 0, 1, 2, 3];
var yTicks = [0, 1, 2, 3, 4, 5, 6, 7];
var hzTicks = [0, 5, 10, 15, 20, 25, 30, 35, 40, 45, 50];

// legend
var legendLabels = ["Corner reflector", "Functioning pipe", "Not functioning pipe", "Water pump", "Wall", "Horizontal pipelines"];

var svg = d3.select("#chart");

// jet-like map
var hzColor = d3.scaleLinear()
  .domain([0, 4, 17, 33.5, 47, 50])
  .range(["rgb(0,0,222)", "rgb(0,0,255)", "rgb(0,255,255)", "rgb(255,255,0)", "rgb(255,0,0)", "rgb(225,0,0)"]);

function drawPanel(box, series) {
  var x = d3.scaleLinear().domain([-3, 3]).range([box.left, box.right]);
  var y = d3.scaleLinear().domain([0, 7]).range([box.bottom, box.top]);
  var g = svg.append("g");

  // light grid first, MATLAB style
  g.selectAll("line.gx").data(xTicks.slice(1)).join("line")
    .attr("x1", d => x(d)).attr("x2", d => x(d))
    .attr("y1", box.top).attr("y2", box.bottom)
    .attr("stroke", "#e8e8e8").attr("stroke-width", 3);
  g.selectAll("line.gy").data(yTicks.slice(1)).join("line")
    .attr("x1", box.left).attr("x2", box.right)
    .attr("y1", d => y(d)).attr("y2", d => y(d))
    .attr("stroke", "#e8e8e8").attr("stroke-width", 3);

  var xAxis = g.append("g").attr("transform", "translate(0," + box.bottom + ")")
    .call(d3.axisBottom(x).tickValues(xTicks).tickFormat(d => d < 0 ? "\u2212" + (-d) : d).tickSize(-12).tickPadding(12));
  var yAxis = g.append("g").attr("transform", "translate(" + box.left + ",0)")
    .call(d3.axisLeft(y).tickValues(yTicks).tickFormat(d3.format("d")).tickSize(-12).tickPadding(16));
  [xAxis, yAxis].forEach(function(a) {
    a.selectAll("path").attr("stroke", "#777").attr("stroke-width", 3);
    a.selectAll("line").attr("stroke", "#555").attr("stroke-width", 2);
    a.selectAll("text").attr("font-size", 32).attr("fill", "#333").style("font-family", "Liberation Serif");
  });

  g.append("text").attr("x", x(0)).attr("y", box.bottom + 89).attr("text-anchor", "middle")
    .attr("font-size", 35).text("X (m)");
  g.append("text").attr("transform", "translate(" + (box.left - 55) + "," + y(3.35) + ") rotate(-90)")
    .attr("text-anchor", "middle").attr("font-size", 35).text("Y (m)");

  // detections, green under blue
  series.forEach(function(s) {
    g.append("g").selectAll("circle").data(s.points).join("circle")
      .attr("cx", d => x(d[0])).attr("cy", d => y(d[1])).attr("r", 10.8)
      .attr("fill", hzColor(s.hz)).attr("fill-opacity", 0.75);
  });

  // walls
  g.selectAll("line.wall").data(wallY).join("line")
    .attr("x1", x(siteX[0])).attr("x2", x(siteX[1]))
    .attr("y1", d => y(d)).attr("y2", d => y(d))
    .attr("stroke", "#000").attr("stroke-width", 5.5);
  // pipelines
  g.selectAll("line.pipeline").data(pipelineY).join("line")
    .attr("x1", x(siteX[0])).attr("x2", x(siteX[1]))
    .attr("y1", d => y(d)).attr("y2", d => y(d))
    .attr("stroke", "#000").attr("stroke-width", 5.5)
    .attr("stroke-dasharray", "24.5 24.3");

  // pumps
  var pumpSize = 32;
  g.selectAll("rect.pump").data(pumpX).join("rect")
    .attr("x", d => x(d) - pumpSize / 2).attr("y", y(pumpY[0]) - pumpSize / 2)
    .attr("width", pumpSize).attr("height", pumpSize)
    .attr("rx", 2).attr("fill", "none").attr("stroke", "#000").attr("stroke-width", 5);

  // pipes
  var pipes = d3.cross(pumpX, pipeRows).concat(nearPipes);
  g.selectAll("circle.pipe").data(pipes).join("circle")
    .attr("cx", d => x(d[0])).attr("cy", d => y(d[1])).attr("r", 17.5)
    .attr("fill", "none").attr("stroke", "#000").attr("stroke-width", 5);

  // vibration arcs of the working pipes
  var bend = [-3, 3, 3, 3];
  workingPipeX.forEach(function(px) {
    pipeArcY.forEach(function(py, i) {
      var p = d3.path();
      p.moveTo(x(px) - 14, y(py));
      p.quadraticCurveTo(x(px), y(py) + bend[i], x(px) + 14, y(py));
      g.append("path").attr("d", p.toString()).attr("fill", "none")
        .attr("stroke", "#000").attr("stroke-width", 4);
    });
  });

  // corner reflector
  var tri = d3.path();
  tri.moveTo(x(reflector[0]) - 15, y(reflector[1]));
  tri.lineTo(x(reflector[0]) + 15, y(reflector[1]));
  tri.lineTo(x(reflector[0]), y(reflector[2]));
  tri.closePath();
  g.append("path").attr("d", tri.toString()).attr("fill", "none")
    .attr("stroke", "#000").attr("stroke-width", 5).attr("stroke-linejoin", "round");
}

drawPanel({left: 750, right: 1793, top: 46, bottom: 1261}, [
  {points: aGreen, hz: greenHz},
  {points: aBlue, hz: blueHzA}
]);
drawPanel({left: 2016.5, right: 3051, top: 54.5, bottom: 1260}, [
  {points: bGreen, hz: greenHz},
  {points: bRed, hz: redHz},
  {points: bBlue, hz: blueHz},
  {points: bNear, hz: blueHz}
]);

// colour bar, one band per Hz
var barLeft = 3085, barRight = 3133;
var hz = d3.scaleLinear().domain([0, 50]).range([1260, 53]);
var bar = svg.append("g");
bar.selectAll("rect").data(d3.range(0, 50)).join("rect")
  .attr("x", barLeft).attr("width", barRight - barLeft)
  .attr("y", d => hz(d + 1)).attr("height", d => hz(d) - hz(d + 1) + 0.5)
  .attr("fill", d => hzColor(d + 0.5));
bar.append("rect").attr("x", barLeft).attr("y", hz(50)).attr("width", barRight - barLeft)
  .attr("height", hz(0) - hz(50)).attr("fill", "none").attr("stroke", "#777").attr("stroke-width", 2.5);
var barAxis = bar.append("g").attr("transform", "translate(" + barRight + ",0)")
  .call(d3.axisRight(hz).tickValues(hzTicks).tickSize(-12).tickPadding(14));
barAxis.select("path").remove();
barAxis.selectAll("line").attr("stroke", "#444").attr("stroke-width", 2);
barAxis.selectAll("text").attr("font-size", 32).attr("fill", "#333").style("font-family", "Liberation Serif");
bar.append("text").attr("x", 3108).attr("y", 36).attr("text-anchor", "middle").attr("font-size", 31).text("Hz");

// panel captions
svg.append("text").attr("x", 1256).attr("y", 1540).attr("text-anchor", "middle").attr("font-size", 58).text("(a)");
svg.append("text").attr("x", 2528).attr("y", 1540).attr("text-anchor", "middle").attr("font-size", 58).text("(b)");

// legend on the left
var legend = svg.append("g");
var labelX = [208, 213, 213, 215, 215, 212];
var labelY = [659, 797, 927, 1047, 1168, 1282];
legend.selectAll("text").data(legendLabels).join("text")
  .attr("x", (d, i) => labelX[i]).attr("y", (d, i) => labelY[i])
  .attr("font-size", 50).attr("fill", "#111").text(d => d);
legend.append("path").attr("d", "M45,610 L117,610 L81,665 Z").attr("fill", "none")
  .attr("stroke", "#000").attr("stroke-width", 6);
legend.selectAll("circle").data([773, 903]).join("circle")
  .attr("cx", 79).attr("cy", d => d).attr("r", 35)
  .attr("fill", "none").attr("stroke", "#000").attr("stroke-width", 9);
[708, 725, 828, 843].forEach(function(a, i) {
  var c = i < 2 ? 77 : 79;
  legend.append("path").attr("d", "M" + (c - 21) + "," + a + " Q" + c + "," + (a + (i % 2 ? 3 : -3)) + " " + (c + 21) + "," + a)
    .attr("fill", "none").attr("stroke", "#000").attr("stroke-width", 4);
});
legend.append("rect").attr("x", 51).attr("y", 1001).attr("width", 70).attr("height", 70).attr("rx", 4)
  .attr("fill", "none").attr("stroke", "#000").attr("stroke-width", 10);
legend.append("line").attr("x1", 16).attr("x2", 154).attr("y1", 1152).attr("y2", 1152)
  .attr("stroke", "#000").attr("stroke-width", 12);
[1247, 1275].forEach(function(ly) {
  legend.append("line").attr("x1", 13).attr("x2", 134).attr("y1", ly).attr("y2", ly)
    .attr("stroke", "#000").attr("stroke-width", 10.5).attr("stroke-dasharray", "45 32 44");
});
</script>
</body>
</html>
